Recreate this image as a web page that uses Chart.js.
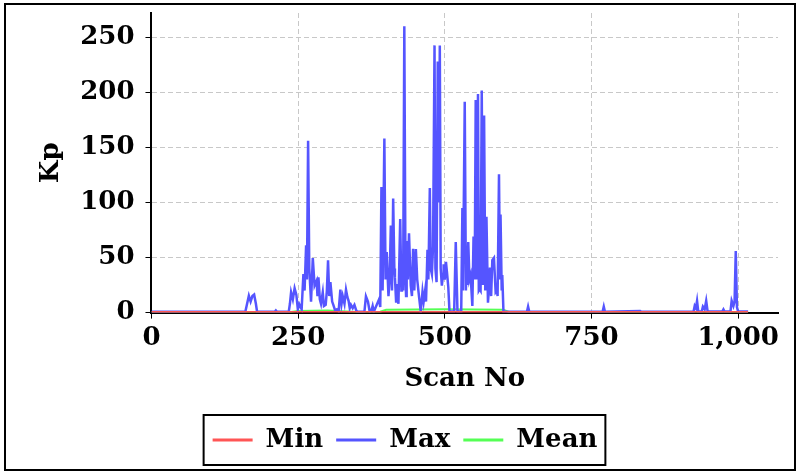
<!DOCTYPE html>
<html>
<head>
<meta charset="utf-8">
<script src="https://cdn.jsdelivr.net/npm/chart.js@4.4.1/dist/chart.umd.min.js"></script>
<style>
  html, body { margin: 0; padding: 0; background: #fff; }
  #wrap { width: 798px; height: 471px; position: relative; }
</style>
</head>
<body>
<div id="wrap"><canvas id="c" width="798" height="471"></canvas></div>
<script>
// ---- Data ----
const minScan = [0, 1017];
const minKp   = [0, 0];

const maxScan = [0,160,163,166,169,172,175,178,180,210,212,214,234,236,238,241,244,247,249.5,252,256,259,261,263.6,265,267,269,272,275,278,281.5,283,284.6,287,289,292,294,297,299,301,303,305,308,310,313,316,319,322,324,326,329,331.6,334,336,338,340,343,346,349,351,363,365.6,369,372,375,377,379,388,390,392,394,397,399,401,404,406,408,410,412,414,415,417,418.4,421,424,426,427,429,431,433,434,435,437,439,441,442,444,446,448,450.7,453,456,459,462,464,466.5,468,470.5,472,474.5,476,478,480,482.5,484,486,488,490,491.5,493,495,497,498,500,502,504,506,508,516,518.7,521.6,528,530,531,534,536,537,538,540,542,544,547,549,551,552.7,554,556.6,558,559.5,561,563,565,567,569,571,573.6,575,577,579,581,583.8,586.7,589,590,592.4,594,595,597,598,600,640,642,644,769,771,773,833,835,924,926,928,930,932,938,940,943,945.6,948,973,975,977,987,989,992,994,996,998,1000,1017];
const maxKp   = [0.8,0.8,8,15.3,10,15,16.3,8,0.8,0.8,2,0.8,0.8,8,18.4,12,22,16,3,7.6,3,35,20,61,30,156,40,10,49.6,24.5,29,15,32,12,8,18.4,6,7,20,47.5,15,27.6,10,7,2,3,1,20.8,8,15,8,20.8,14,10.7,4,7,4,7,2,0.8,0.8,14.7,10,0.8,2,6,0.8,12,5,114,20,158,30,55,15,30,79,20,103.5,40,32,10,26,8,85,20,45,20,260,30,15,65,30,72,40,24.5,15,58,20,57.6,30,15,1,19,10,20,10,57,30,113,40,35,60,242.6,40,27.6,228,100,242.6,40,24.5,35,44,30,46,35,23,1,1,64,1,1,95,20,191.5,20,49,25,64,30,34,6,69,30,193,30,198.5,20,21.4,20,201.6,25,179,20,87,9,20,41,15,47.5,49.6,18.4,20,15,125.6,30,89,20,34,0.8,0.8,5.5,0.8,0.8,5.5,0.8,1.5,0.8,0.8,6,4,10.7,1,1,5.5,3,10.7,1,1,3,1,1,10.7,6,10,55.8,5,1,1];

const meanScan = [0, 235, 250, 300, 350, 390, 400, 500, 600, 610, 1017];
const meanKp   = [0.2, 0.3, 1.5, 2, 0.5, 0.8, 2.5, 3, 2.5, 0.3, 0.3];

const yTicks = [0, 50, 100, 150, 200, 250];
const xTicks = [0, 250, 500, 750, 1000];

const pts = (xs, ys) => xs.map((x, i) => ({ x: x, y: ys[i] }));

const FONT = { family: "'DejaVu Serif', serif", size: 26, weight: 'bold' };

const framePlugin = {
  id: 'frame',
  afterDraw(chart) {
    const ctx = chart.ctx;
    ctx.save();
    ctx.strokeStyle = '#000';
    ctx.lineWidth = 2;
    ctx.strokeRect(5, 4, 790, 466);
    const hb = chart.legend && chart.legend.legendHitBoxes;
    if (hb && hb.length) {
      const l = Math.min(...hb.map(b => b.left)) - 9;
      const r = Math.max(...hb.map(b => b.left + b.width)) + 8;
      const cy = hb[0].top + hb[0].height / 2;
      ctx.strokeRect(l, cy - 25, r - l, 50);
    }
    ctx.restore();
  }
};

new Chart(document.getElementById('c'), {
  type: 'line',
  data: {
    datasets: [
      { label: 'Min', data: pts(minScan, minKp), borderColor: 'rgb(255,85,85)', backgroundColor: 'rgb(255,85,85)', borderWidth: 3, pointRadius: 0, tension: 0 },
      { label: 'Max', data: pts(maxScan, maxKp), borderColor: 'rgb(85,85,255)', backgroundColor: 'rgb(85,85,255)', borderWidth: 2.5, pointRadius: 0, tension: 0 },
      { label: 'Mean', data: pts(meanScan, meanKp), borderColor: 'rgb(85,255,85)', backgroundColor: 'rgb(85,255,85)', borderWidth: 2, pointRadius: 0, tension: 0 }
    ]
  },
  options: {
    responsive: false,
    animation: false,
    layout: { padding: { left: 32, right: 20, top: 13, bottom: 8 } },
    plugins: {
      legend: {
        position: 'bottom',
        labels: {
          font: FONT, color: '#000',
          usePointStyle: false, boxWidth: 40, boxHeight: 3,
          padding: 13,
          generateLabels(chart) {
            return chart.data.datasets.map((d, i) => ({
              text: d.label, fillStyle: d.borderColor, strokeStyle: d.borderColor,
              lineWidth: 0, datasetIndex: i, fontColor: '#000', hidden: false
            }));
          }
        }
      },
      tooltip: { enabled: false }
    },
    scales: {
      x: {
        type: 'linear', min: 0, max: 1068,
        ticks: { stepSize: 250, includeBounds: false, font: FONT, color: '#000', padding: 4, maxRotation: 0 },
        afterBuildTicks(axis) { axis.ticks = xTicks.map(v => ({ value: v })); },
        grid: { color: 'rgb(200,200,200)', tickColor: '#000', tickLength: 6, lineWidth: 1 },
        border: { color: '#000', width: 2, dash: [5, 3] },
        title: { display: true, text: 'Scan No', font: FONT, color: '#000', padding: { top: 6, bottom: 19 } }
      },
      y: {
        type: 'linear', min: 0, max: 272,
        ticks: { stepSize: 50, includeBounds: false, font: FONT, color: '#000', padding: 11 },
        afterBuildTicks(axis) { axis.ticks = yTicks.map(v => ({ value: v })); },
        afterFit(axis) { axis.paddingTop = 0; },
        grid: { color: 'rgb(200,200,200)', tickColor: '#000', tickLength: 6, lineWidth: 1 },
        border: { color: '#000', width: 2, dash: [5, 3] },
        title: { display: true, text: 'Kp', font: FONT, color: '#000', padding: { top: 4, bottom: 2 } }
      }
    }
  },
  plugins: [framePlugin]
});
</script>
</body>
</html>
